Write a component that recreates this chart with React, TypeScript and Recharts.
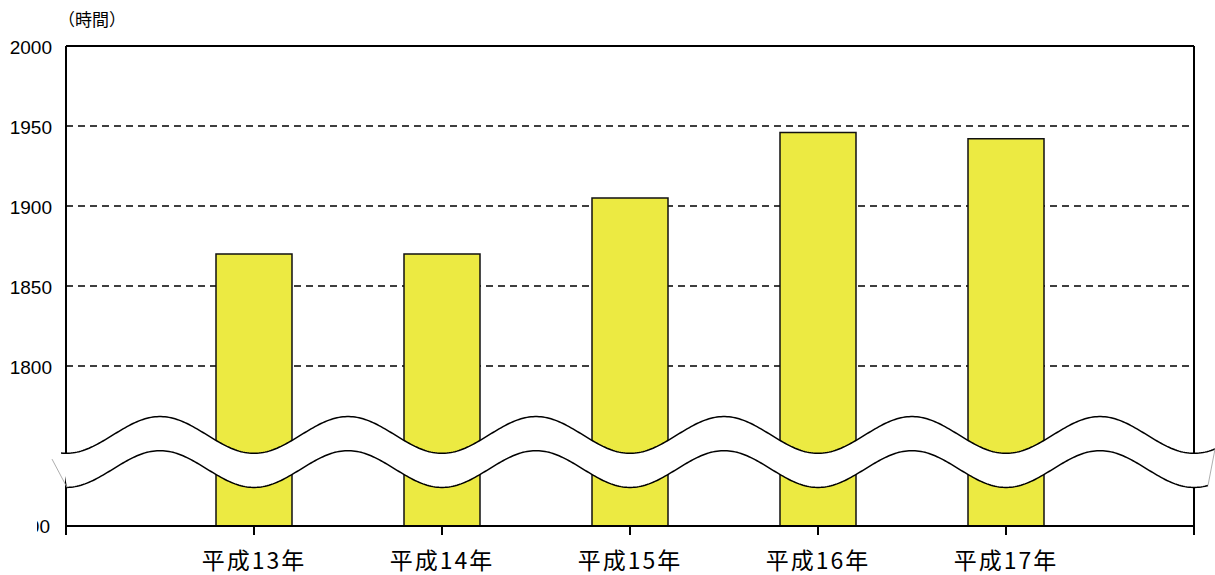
import React from 'react';
import {
  BarChart,
  Bar,
  XAxis,
  YAxis,
  CartesianGrid,
  ReferenceLine,
  ReferenceArea,
} from 'recharts';

const CATEGORIES = ['平成13年', '平成14年', '平成15年', '平成16年', '平成17年'];
const HOURS = [1870, 1870, 1905, 1946, 1942];
const Y_TICKS = [1700, 1800, 1850, 1900, 1950, 2000];
const X_TICKS = [0, 1, 2, 3, 4, 5, 6];

// break band (the wavy cut in the axis), given as the centre values of its two lines
const BREAK_UPPER = 1756.9;
const BREAK_LOWER = 1735.6;

const data = CATEGORIES.map((name, i) => ({ x: i + 1, name, hours: HOURS[i] }));

const YTick = (props: any) => {
  const { x, y, payload } = props;
  const v = payload.value;
  if (v === 1700) {
    // bottom label is half hidden in the source
    return (
      <g>
        <defs>
          <clipPath id="ybottomclip">
            <rect x={37} y={y - 20} width={40} height={40} />
          </clipPath>
        </defs>
        <text x={x - 2} y={y} dy="0.36em" textAnchor="end" fontSize={19} fill="#000"
          fontFamily="'Liberation Sans', Arial, sans-serif" clipPath="url(#ybottomclip)">
          {v}
        </text>
      </g>
    );
  }
  return (
    <text x={x} y={y} dy="0.42em" textAnchor="end" fontSize={19} fill="#000"
      fontFamily="'Liberation Sans', Arial, sans-serif">
      {v}
    </text>
  );
};

const XTick = (props: any) => {
  const { x, y, payload } = props;
  const label = CATEGORIES[payload.value - 1];
  if (!label) return null;
  return (
    <text x={x} y={y + 32} textAnchor="middle" fontSize={23} letterSpacing={2} fill="#000"
      fontFamily="'Noto Sans CJK JP', sans-serif">
      {label}
    </text>
  );
};

const BreakBand = (props: any) => {
  const { x, y, width, height } = props;
  if (x == null || y == null) return null;
  const period = width / 6;
  const amp = height * 0.54;
  const top = y;
  const bottom = y + height;
  const wave = (px: number, c: number) => c + amp * Math.cos((2 * Math.PI * (px - x)) / period);
  const upStart = x - 5;
  const upEnd = x + width + 21;
  const loStart = x + 1;
  const loEnd = x + width + 14;
  const up: string[] = [];
  for (let px = upStart; px <= upEnd; px += 2) up.push(`${px},${wave(px, top).toFixed(2)}`);
  up.push(`${upEnd},${wave(upEnd, top).toFixed(2)}`);
  const lo: string[] = [];
  for (let px = loStart; px <= loEnd; px += 2) lo.push(`${px},${wave(px, bottom).toFixed(2)}`);
  lo.push(`${loEnd},${wave(loEnd, bottom).toFixed(2)}`);
  const fillPts = [...up, ...lo.slice().reverse()].join(' ');
  return (
    <g>
      <polygon points={fillPts} fill="#fff" stroke="none" />
      <polyline points={up.join(' ')} fill="none" stroke="#000" strokeWidth={1.5} />
      <polyline points={lo.join(' ')} fill="none" stroke="#000" strokeWidth={1.5} />
      <line x1={upStart - 9} y1={wave(upStart, top) + 6} x2={loStart} y2={wave(loStart, bottom)}
        stroke="#999" strokeWidth={0.8} />
      <line x1={upEnd} y1={wave(upEnd, top)} x2={loEnd} y2={wave(loEnd, bottom)}
        stroke="#999" strokeWidth={0.8} />
    </g>
  );
};

export default function App() {
  return (
    <div style={{ position: 'absolute', left: 0, top: 0, width: 1215, height: 575, background: '#fff' }}>
      <div
        style={{
          position: 'absolute',
          left: 58,
          top: 8,
          fontSize: 17,
          fontFamily: "'Noto Sans CJK JP', sans-serif",
          color: '#000',
          lineHeight: '22px',
        }}
      >
        （時間）
      </div>
      <BarChart
        width={1215}
        height={575}
        data={data}
        margin={{ top: 46, right: 21, left: 0, bottom: 0 }}
      >
        <CartesianGrid vertical={false} stroke="#000" strokeDasharray="7 5" strokeWidth={1.3} />
        <XAxis
          type="number"
          dataKey="x"
          domain={[0, 6]}
          ticks={X_TICKS}
          interval={0}
          height={49}
          axisLine={{ stroke: '#000', strokeWidth: 2 }}
          tickLine={{ stroke: '#000', strokeWidth: 2 }}
          tickSize={9}
          tick={<XTick />}
        />
        <YAxis
          type="number"
          domain={[1700, 2000]}
          ticks={Y_TICKS}
          interval={0}
          allowDataOverflow
          width={66}
          axisLine={{ stroke: '#000', strokeWidth: 2 }}
          tickLine={false}
          tickSize={0}
          tickMargin={14}
          tick={<YTick />}
        />
        <Bar
          dataKey="hours"
          barSize={76}
          fill="#ECEA42"
          stroke="#111"
          strokeWidth={1.5}
          isAnimationActive={false}
        />
        <ReferenceLine y={2000} stroke="#000" strokeWidth={2} />
        <ReferenceLine x={6} stroke="#000" strokeWidth={2} />
        <ReferenceArea
          x1={0}
          x2={6}
          y1={BREAK_LOWER}
          y2={BREAK_UPPER}
          ifOverflow="visible"
          zIndex={2000}
          shape={<BreakBand />}
        />
      </BarChart>
    </div>
  );
}
